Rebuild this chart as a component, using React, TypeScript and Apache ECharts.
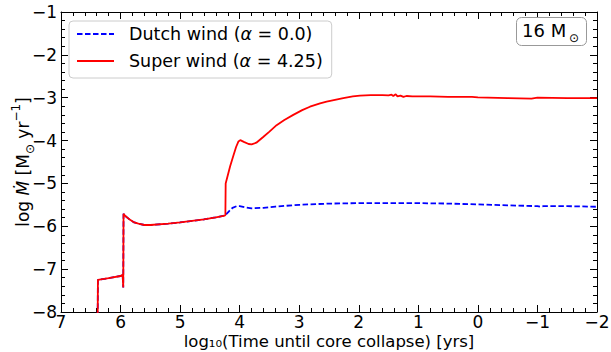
import React, { useEffect, useRef } from "react";
import * as echarts from "echarts";

// Shared early evolution (both models identical)
const earlyX = [6.385, 6.38, 6.2, 6.0, 5.965, 5.955, 5.95, 5.92, 5.84, 5.77, 5.7, 5.6, 5.5, 5.2, 5.0, 4.6, 4.4, 4.25];
const earlyY = [-8.3, -7.25, -7.21, -7.16, -7.13, -7.43, -5.71, -5.76, -5.85, -5.91, -5.94, -5.97, -5.97, -5.94, -5.91, -5.84, -5.79, -5.75];

// Dutch wind (alpha = 0.0) after divergence
const dutchX = [4.24, 4.18, 4.12, 4.05, 4.0, 3.9, 3.8, 3.6, 3.4, 3.0, 2.5, 2.0, 1.5, 1.0, 0.5, 0.0, -0.5, -1.0, -1.05, -1.1, -1.5, -2.0];
const dutchY = [-5.74, -5.65, -5.57, -5.53, -5.53, -5.56, -5.58, -5.57, -5.54, -5.5, -5.47, -5.46, -5.46, -5.46, -5.47, -5.49, -5.51, -5.53, -5.545, -5.53, -5.53, -5.545];

// Super wind (alpha = 4.25) after divergence
const superX = [4.24, 4.235, 4.22, 4.16, 4.11, 4.06, 4.02, 3.99, 3.93, 3.85, 3.8, 3.72, 3.6, 3.5, 3.38, 3.25, 3.1, 2.95, 2.82, 2.65, 2.54, 2.4, 2.26, 2.1, 1.98, 1.8, 1.6, 1.5, 1.45, 1.42, 1.38, 1.35, 1.3, 1.25, 1.2, 1.1, 0.8, 0.5, 0.1, 0.0, -0.5, -0.9, -1.0, -1.5, -2.0];
const superY = [-5.74, -5.0, -4.92, -4.6, -4.37, -4.15, -4.02, -3.99, -4.03, -4.08, -4.09, -4.05, -3.91, -3.79, -3.64, -3.52, -3.4, -3.29, -3.21, -3.13, -3.09, -3.05, -3.01, -2.97, -2.95, -2.94, -2.94, -2.945, -2.93, -2.96, -2.92, -2.97, -2.95, -2.98, -2.96, -2.97, -2.97, -2.98, -2.98, -2.99, -3.01, -3.02, -3.0, -3.01, -3.01];

const seriesNames = ["Dutch wind (α = 0.0)", "Super wind (α = 4.25)"];
const legendParts: Record<string, [string, string]> = {
  "Dutch wind (α = 0.0)": ["Dutch wind (", " = 0.0)"],
  "Super wind (α = 4.25)": ["Super wind (", " = 4.25)"],
};

const FONT = "DejaVu Sans";

const fmt = (v: number) => (v < 0 ? "\u2212" + Math.abs(v) : String(v));

const pairs = (xs: number[], ys: number[]) => xs.map((x, i) => [x, ys[i]]);

export default function App() {
  const ref = useRef<HTMLDivElement>(null);
  useEffect(() => {
    if (!ref.current) return;
    const chart = echarts.init(ref.current, undefined, { renderer: "svg" });
    const tickCommon = {
      axisLine: { show: true, onZero: false, lineStyle: { color: "#000", width: 1 } },
      axisTick: { show: true, inside: true, length: 7, lineStyle: { color: "#000", width: 1 } },
      minorTick: { show: true, splitNumber: 5, length: 4, lineStyle: { color: "#000", width: 1 } },
      splitLine: { show: false },
      minorSplitLine: { show: false },
    };
    chart.setOption({
      animation: false,
      backgroundColor: "#fff",
      grid: { left: 61, right: 14, top: 12, bottom: 40, containLabel: false, outerBoundsMode: "none" },
      legend: {
        data: seriesNames,
        orient: "vertical",
        left: 69,
        top: 21,
        padding: [4, 9, 8, 7],
        itemGap: 9,
        itemWidth: 37,
        itemHeight: 18,
        borderColor: "#cccccc",
        borderWidth: 1,
        borderRadius: 4,
        backgroundColor: "rgba(255,255,255,0.85)",
        itemStyle: { opacity: 0 },
        formatter: (name: string) => {
          const p = legendParts[name];
          return `{a|${p[0]}}{i|α}{a|${p[1]}}`;
        },
        textStyle: {
          fontFamily: FONT,
          fontSize: 17.5,
          color: "#000",
          padding: [0, 0, 0, 10],
          rich: {
            a: { fontFamily: FONT, fontSize: 17.5, color: "#000" },
            i: { fontFamily: FONT, fontSize: 17.5, fontStyle: "italic", color: "#000" },
          },
        },
      },
      xAxis: [
        {
          type: "value",
          inverse: true,
          min: -2,
          max: 7,
          interval: 1,
          position: "bottom",
          ...tickCommon,
          axisLabel: { show: true, margin: 1, fontFamily: FONT, fontSize: 17, lineHeight: 17, color: "#000", formatter: fmt },
          name: "log₁₀(Time until core collapse) [yrs]",
          nameLocation: "middle",
          nameGap: 21,
          nameMoveOverlap: false,
          nameTextStyle: {
            fontFamily: FONT,
            fontSize: 16.5,
            lineHeight: 16.5,
            color: "#000",
          },
        },
        {
          type: "value",
          inverse: true,
          min: -2,
          max: 7,
          interval: 1,
          position: "top",
          ...tickCommon,
          axisLabel: { show: false },
        },
      ],
      yAxis: [
        {
          type: "value",
          min: -8,
          max: -1,
          interval: 1,
          position: "left",
          ...tickCommon,
          axisLabel: { show: true, margin: 4, fontFamily: FONT, fontSize: 17, color: "#000", formatter: fmt },
          name: "{a|log }{i|Ṁ}{a| [M}{s|⊙}{a| yr}{p|−1}{a|]}",
          nameLocation: "middle",
          nameGap: 25,
          nameRotate: 90,
          nameMoveOverlap: false,
          nameTextStyle: {
            fontFamily: FONT,
            fontSize: 17,
            color: "#000",
            rich: {
              a: { fontFamily: FONT, fontSize: 17, color: "#000", lineHeight: 26 },
              i: { fontFamily: FONT, fontSize: 17, fontStyle: "italic", color: "#000", lineHeight: 26 },
              s: { fontFamily: FONT, fontSize: 12, color: "#000", verticalAlign: "bottom", lineHeight: 12 },
              p: { fontFamily: FONT, fontSize: 12, color: "#000", verticalAlign: "top", lineHeight: 12 },
            },
          },
        },
        {
          type: "value",
          min: -8,
          max: -1,
          interval: 1,
          position: "right",
          ...tickCommon,
          axisLabel: { show: false },
        },
      ],
      series: [
        {
          name: seriesNames[0],
          type: "line",
          xAxisIndex: 0,
          yAxisIndex: 0,
          showSymbol: false,
          symbol: "none",
          clip: true,
          data: pairs(earlyX, earlyY).concat(pairs(dutchX, dutchY)),
          lineStyle: { color: "#0000ff", width: 1.8, type: [5.5, 2.5] },
          itemStyle: { color: "#0000ff" },
          z: 2,
        },
        {
          name: seriesNames[1],
          type: "line",
          xAxisIndex: 0,
          yAxisIndex: 0,
          showSymbol: false,
          symbol: "none",
          clip: true,
          data: pairs(earlyX, earlyY).concat(pairs(superX, superY)),
          lineStyle: { color: "#ff0000", width: 1.8, type: "solid" },
          itemStyle: { color: "#ff0000" },
          z: 3,
        },
      ],
      graphic: [
        {
          type: "rect",
          shape: { x: 516.5, y: 17.5, width: 70, height: 28, r: 5 },
          style: { fill: "#fff", stroke: "#999", lineWidth: 1 },
          z: 10,
        },
        {
          type: "text",
          x: 522,
          y: 30.5,
          style: { text: "16 M", fontFamily: FONT, fontSize: 18, fill: "#000", verticalAlign: "middle", align: "left" },
          z: 11,
        },
        {
          type: "text",
          x: 569,
          y: 37.5,
          style: { text: "⊙", fontFamily: FONT, fontSize: 12, fill: "#000", verticalAlign: "middle", align: "left" },
          z: 11,
        },
      ],
    });
    return () => chart.dispose();
  }, []);
  return <div ref={ref} style={{ position: "fixed", left: 0, top: 0, width: 611, height: 352 }} />;
}
